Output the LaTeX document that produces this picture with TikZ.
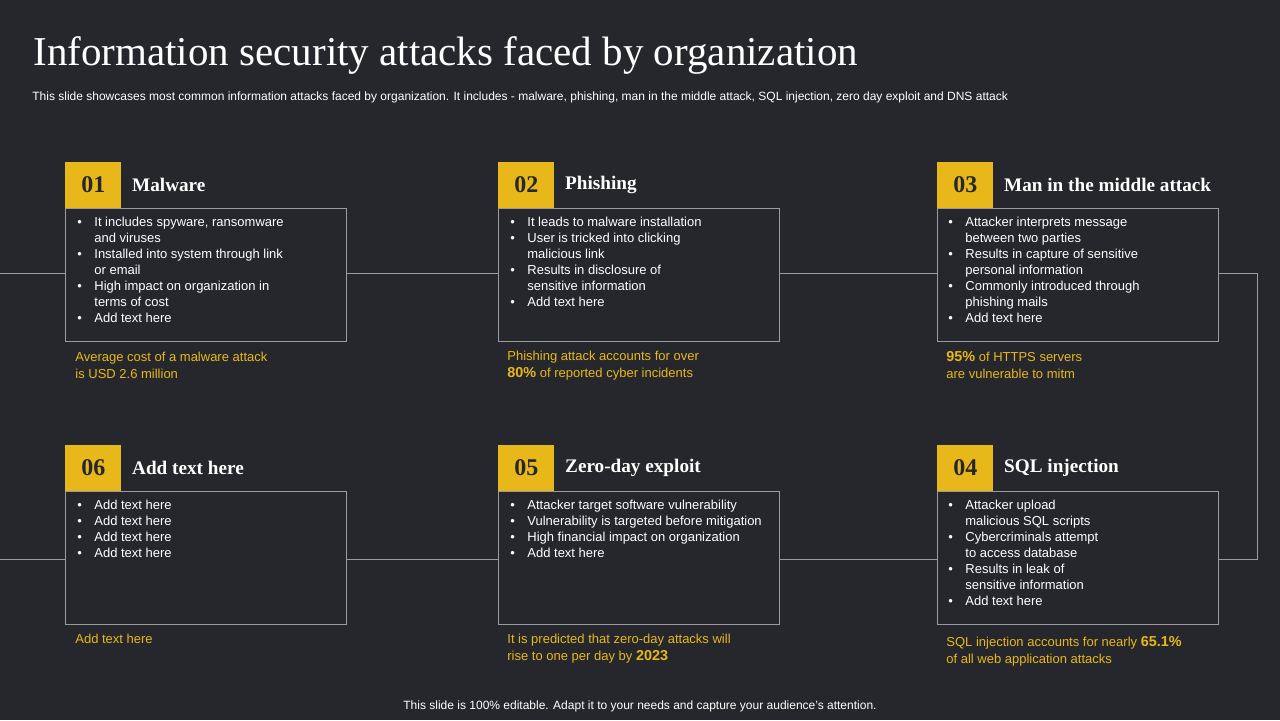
\documentclass[tikz,border=0pt]{standalone}
\usepackage{fontspec}
\setmainfont{Liberation Sans}
\newfontfamily\headfont{Liberation Serif}
\usetikzlibrary{positioning}
\definecolor{bgdark}{HTML}{25272C}
\definecolor{gold}{HTML}{E8B81A}
\definecolor{edge}{HTML}{9A9CA0}
\tikzset{
  numbox/.style={fill=gold,minimum width=28pt,minimum height=23pt,inner sep=0pt,font=\headfont\fontsize{12}{12}\selectfont\bfseries,text=bgdark},
  headtxt/.style={anchor=west,text=white,inner sep=0pt,font=\headfont\fontsize{9.6}{10}\selectfont\bfseries},
  infobox/.style={draw=edge,line width=0.5pt,minimum width=140.5pt,minimum height=66.5pt,inner sep=0pt},
  bullets/.style={anchor=north west,text=white,align=left,font=\fontsize{6.5}{8}\selectfont,inner sep=0pt},
  note/.style={anchor=north west,text=gold,align=left,font=\fontsize{6.5}{8.5}\selectfont,inner sep=0pt},
  link/.style={draw=edge,line width=0.5pt}
}
\newcommand{\itm}[1]{\makebox[8.5pt][l]{\textbullet}#1}
\newcommand{\cnt}[1]{\hspace*{8.5pt}#1}
\begin{document}
\begin{tikzpicture}[x=0.5pt,y=-0.5pt]
\fill[bgdark] (0,0) rectangle (1280,720);
\useasboundingbox (0,0) rectangle (1280,720);
\node[anchor=west,inner sep=0pt,text=white,font=\headfont\fontsize{20.5}{20}\selectfont] (title) at (33,55) {Information security attacks faced by organization};
\node[anchor=west,inner sep=0pt,text=white,font=\fontsize{6}{6}\selectfont] (sub) at (32,97) {This slide showcases most common information attacks faced by organization. It includes - malware, phishing, man in the middle attack, SQL injection, zero day exploit and DNS attack};
% boxes
\node[infobox,anchor=north west] (b1) at (65,208) {};
\node[infobox,anchor=north west] (b2) at (498,208) {};
\node[infobox,anchor=north west] (b3) at (937,208) {};
\node[infobox,anchor=north west] (b6) at (65,491) {};
\node[infobox,anchor=north west] (b5) at (498,491) {};
\node[infobox,anchor=north west] (b4) at (937,491) {};
\foreach \b/\n/\h in {b1/01/Malware,b2/02/Phishing,b3/03/Man in the middle attack,b6/06/Add text here,b5/05/Zero-day exploit,b4/04/SQL injection}{
  \node[numbox,anchor=south west] (\b n) at (\b.north west) {\n};
  \node[headtxt,right=5pt of \b n] (\b h) {\h};
}
% connectors
\coordinate (lt) at (0,273);
\coordinate (rt) at (1257,273);
\coordinate (rb) at (1257,559);
\coordinate (lb) at (0,559);
\draw[link] (lt) -- (b1.west |- lt);
\draw[link] (b1.east |- lt) -- (b2.west |- lt);
\draw[link] (b2.east |- lt) -- (b3.west |- lt);
\draw[link] (b3.east |- lt) -- (rt) -- (rb) -- (b4.east |- rb);
\draw[link] (b4.west |- rb) -- (b5.east |- rb);
\draw[link] (b5.west |- rb) -- (b6.east |- rb);
\draw[link] (b6.west |- rb) -- (lb);
% bullet texts
\node[bullets] (t1) at (77,217) {\itm{It includes spyware, ransomware}\\\cnt{and viruses}\\\itm{Installed into system through link}\\\cnt{or email}\\\itm{High impact on organization in}\\\cnt{terms of cost}\\\itm{Add text here}};
\node[bullets] (t2) at (510,217) {\itm{It leads to malware installation}\\\itm{User is tricked into clicking}\\\cnt{malicious link}\\\itm{Results in disclosure of}\\\cnt{sensitive information}\\\itm{Add text here}};
\node[bullets] (t3) at (948,217) {\itm{Attacker interprets message}\\\cnt{between two parties}\\\itm{Results in capture of sensitive}\\\cnt{personal information}\\\itm{Commonly introduced through}\\\cnt{phishing mails}\\\itm{Add text here}};
\node[bullets] (t6) at (77,500) {\itm{Add text here}\\\itm{Add text here}\\\itm{Add text here}\\\itm{Add text here}};
\node[bullets] (t5) at (510,500) {\itm{Attacker target software vulnerability}\\\itm{Vulnerability is targeted before  mitigation}\\\itm{High financial impact on organization}\\\itm{Add text here}};
\node[bullets] (t4) at (948,500) {\itm{Attacker upload}\\\cnt{malicious SQL scripts}\\\itm{Cybercriminals  attempt}\\\cnt{to access database}\\\itm{Results in leak of}\\\cnt{sensitive information}\\\itm{Add text here}};
% notes
\node[note] (n1) at (75,352) {Average  cost of a malware attack\\is USD 2.6 million};
\node[note] (n2) at (507,351) {Phishing attack accounts for over\\{\fontsize{7.2}{8}\selectfont\bfseries 80\%} of reported  cyber incidents};
\node[note] (n3) at (946,351) {{\fontsize{7.2}{8}\selectfont\bfseries 95\%} of HTTPS  servers\\are vulnerable  to mitm};
\node[note] (n6) at (75,634) {Add text here};
\node[note] (n5) at (507,634) {It is predicted that zero-day attacks will\\rise to one per day by {\fontsize{7.2}{8}\selectfont\bfseries 2023}};
\node[note] (n4) at (946,636) {SQL injection accounts for nearly {\fontsize{7.2}{8}\selectfont\bfseries 65.1\%}\\of all web application attacks};
\node[text=white,font=\fontsize{6}{6}\selectfont] (foot) at (640,706) {This slide is 100\% editable. Adapt it to your needs and capture your audience's attention.};
\end{tikzpicture}
\end{document}
